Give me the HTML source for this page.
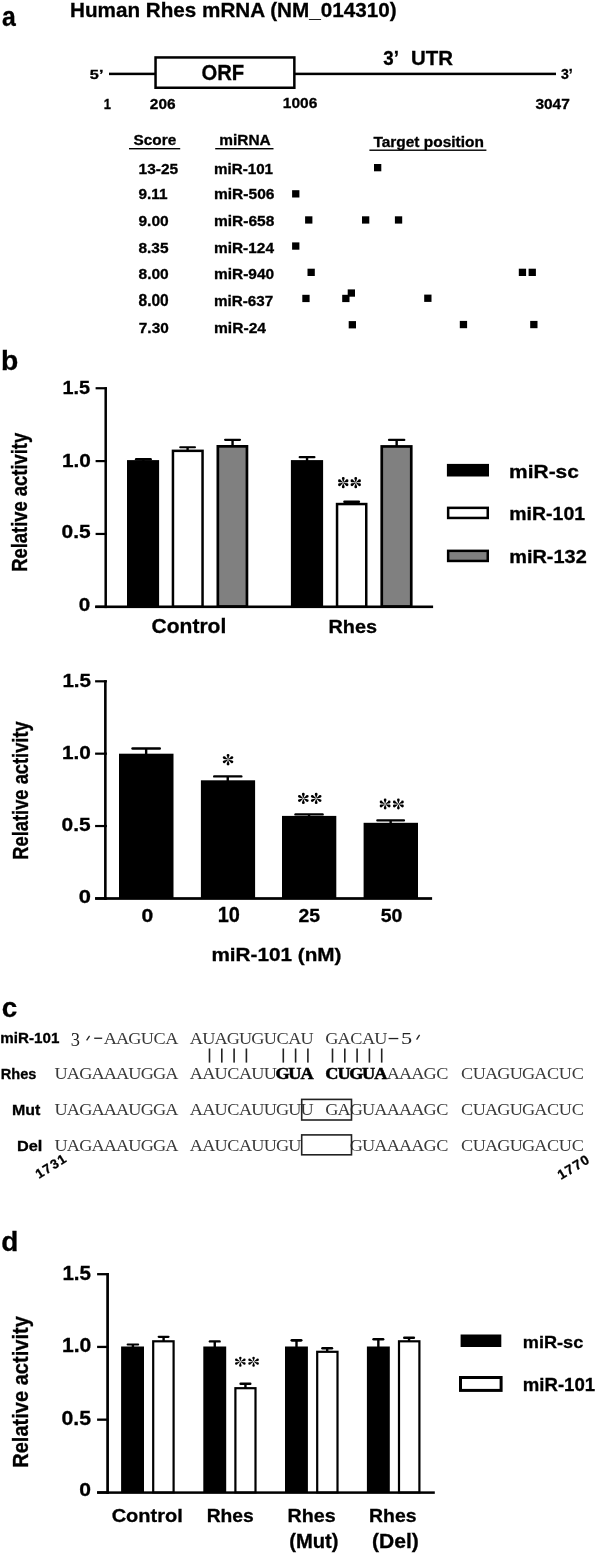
<!DOCTYPE html>
<html><head><meta charset="utf-8"><style>
html,body{margin:0;padding:0;background:#fff;}
svg{display:block;will-change:transform;}
</style></head><body>
<svg width="598" height="1556" viewBox="0 0 598 1556">
<rect x="0" y="0" width="598" height="1556" fill="#fff"/>
<text x="2.08" y="25.82" font-family="Liberation Sans" font-weight="bold" font-size="27.74" textLength="13.80" lengthAdjust="spacingAndGlyphs" fill="#000" stroke="#000" stroke-width="0.3" >a</text>
<text x="70.02" y="17.23" font-family="Liberation Sans" font-weight="bold" font-size="21.01" textLength="326.51" lengthAdjust="spacingAndGlyphs" fill="#000" stroke="#000" stroke-width="0.3" >Human Rhes mRNA (NM_014310)</text>
<text x="89.89" y="79.27" font-family="Liberation Sans" font-weight="bold" font-size="13.47" textLength="13.62" lengthAdjust="spacingAndGlyphs" fill="#000" stroke="#000" stroke-width="0.3" >5’</text>
<rect x="109.00" y="72.65" width="46.00" height="2.50" fill="#000"/>
<rect x="155.55" y="57.45" width="138.80" height="30.30" fill="#fff" stroke="#000" stroke-width="2.5"/>
<text x="201.47" y="79.98" font-family="Liberation Sans" font-weight="bold" font-size="22.03" textLength="42.78" lengthAdjust="spacingAndGlyphs" fill="#000" stroke="#000" stroke-width="0.3" >ORF</text>
<rect x="295.00" y="72.65" width="261.00" height="2.50" fill="#000"/>
<text x="383.37" y="64.79" font-family="Liberation Sans" font-weight="bold" font-size="19.46" textLength="15.60" lengthAdjust="spacingAndGlyphs" fill="#000" stroke="#000" stroke-width="0.3" >3’</text>
<text x="410.98" y="64.80" font-family="Liberation Sans" font-weight="bold" font-size="19.77" textLength="41.96" lengthAdjust="spacingAndGlyphs" fill="#000" stroke="#000" stroke-width="0.3" >UTR</text>
<text x="560.97" y="79.45" font-family="Liberation Sans" font-weight="bold" font-size="13.96" textLength="11.79" lengthAdjust="spacingAndGlyphs" fill="#000" stroke="#000" stroke-width="0.3" >3’</text>
<text x="103.69" y="108.90" font-family="Liberation Sans" font-weight="bold" font-size="14.68" textLength="7.18" lengthAdjust="spacingAndGlyphs" fill="#000" stroke="#000" stroke-width="0.3" >1</text>
<text x="149.86" y="108.76" font-family="Liberation Sans" font-weight="bold" font-size="14.27" textLength="25.70" lengthAdjust="spacingAndGlyphs" fill="#000" stroke="#000" stroke-width="0.3" >206</text>
<text x="282.82" y="108.45" font-family="Liberation Sans" font-weight="bold" font-size="14.97" textLength="34.44" lengthAdjust="spacingAndGlyphs" fill="#000" stroke="#000" stroke-width="0.3" >1006</text>
<text x="535.44" y="108.64" font-family="Liberation Sans" font-weight="bold" font-size="14.95" textLength="34.34" lengthAdjust="spacingAndGlyphs" fill="#000" stroke="#000" stroke-width="0.3" >3047</text>
<text x="133.55" y="144.75" font-family="Liberation Sans" font-weight="bold" font-size="15.11" textLength="42.67" lengthAdjust="spacingAndGlyphs" fill="#000" stroke="#000" stroke-width="0.3" >Score</text>
<text x="219.28" y="144.80" font-family="Liberation Sans" font-weight="bold" font-size="14.48" textLength="51.43" lengthAdjust="spacingAndGlyphs" fill="#000" stroke="#000" stroke-width="0.3" >miRNA</text>
<text x="373.43" y="146.80" font-family="Liberation Sans" font-weight="bold" font-size="14.62" textLength="110.43" lengthAdjust="spacingAndGlyphs" fill="#000" stroke="#000" stroke-width="0.3" >Target position</text>
<rect x="129.00" y="148.00" width="51.20" height="1.40" fill="#000"/>
<rect x="215.20" y="148.00" width="58.30" height="1.40" fill="#000"/>
<rect x="369.40" y="149.50" width="117.00" height="1.40" fill="#000"/>
<text x="138.52" y="173.73" font-family="Liberation Sans" font-weight="bold" font-size="15.09" textLength="39.62" lengthAdjust="spacingAndGlyphs" fill="#000" stroke="#000" stroke-width="0.3" >13-25</text>
<text x="214.00" y="173.56" font-family="Liberation Sans" font-weight="bold" font-size="14.42" textLength="59.04" lengthAdjust="spacingAndGlyphs" fill="#000" stroke="#000" stroke-width="0.3" >miR-101</text>
<text x="138.46" y="199.45" font-family="Liberation Sans" font-weight="bold" font-size="14.83" textLength="29.07" lengthAdjust="spacingAndGlyphs" fill="#000" stroke="#000" stroke-width="0.3" >9.11</text>
<text x="213.97" y="199.26" font-family="Liberation Sans" font-weight="bold" font-size="14.15" textLength="60.50" lengthAdjust="spacingAndGlyphs" fill="#000" stroke="#000" stroke-width="0.3" >miR-506</text>
<text x="138.46" y="226.05" font-family="Liberation Sans" font-weight="bold" font-size="14.83" textLength="30.29" lengthAdjust="spacingAndGlyphs" fill="#000" stroke="#000" stroke-width="0.3" >9.00</text>
<text x="213.98" y="225.86" font-family="Liberation Sans" font-weight="bold" font-size="14.15" textLength="60.42" lengthAdjust="spacingAndGlyphs" fill="#000" stroke="#000" stroke-width="0.3" >miR-658</text>
<text x="138.51" y="252.64" font-family="Liberation Sans" font-weight="bold" font-size="14.81" textLength="30.03" lengthAdjust="spacingAndGlyphs" fill="#000" stroke="#000" stroke-width="0.3" >8.35</text>
<text x="213.98" y="252.60" font-family="Liberation Sans" font-weight="bold" font-size="14.34" textLength="60.00" lengthAdjust="spacingAndGlyphs" fill="#000" stroke="#000" stroke-width="0.3" >miR-124</text>
<text x="138.50" y="279.45" font-family="Liberation Sans" font-weight="bold" font-size="14.97" textLength="30.24" lengthAdjust="spacingAndGlyphs" fill="#000" stroke="#000" stroke-width="0.3" >8.00</text>
<text x="213.98" y="279.26" font-family="Liberation Sans" font-weight="bold" font-size="14.29" textLength="60.16" lengthAdjust="spacingAndGlyphs" fill="#000" stroke="#000" stroke-width="0.3" >miR-940</text>
<text x="138.50" y="306.04" font-family="Liberation Sans" font-weight="bold" font-size="15.68" textLength="30.24" lengthAdjust="spacingAndGlyphs" fill="#000" stroke="#000" stroke-width="0.3" >8.00</text>
<text x="213.99" y="305.84" font-family="Liberation Sans" font-weight="bold" font-size="14.95" textLength="59.29" lengthAdjust="spacingAndGlyphs" fill="#000" stroke="#000" stroke-width="0.3" >miR-637</text>
<text x="138.84" y="332.64" font-family="Liberation Sans" font-weight="bold" font-size="14.95" textLength="29.89" lengthAdjust="spacingAndGlyphs" fill="#000" stroke="#000" stroke-width="0.3" >7.30</text>
<text x="213.97" y="332.60" font-family="Liberation Sans" font-weight="bold" font-size="14.48" textLength="52.02" lengthAdjust="spacingAndGlyphs" fill="#000" stroke="#000" stroke-width="0.3" >miR-24</text>
<rect x="374.00" y="164.00" width="7.30" height="7.30" fill="#000"/>
<rect x="292.10" y="190.20" width="7.30" height="7.30" fill="#000"/>
<rect x="305.10" y="216.30" width="7.30" height="7.30" fill="#000"/>
<rect x="362.00" y="216.30" width="7.30" height="7.30" fill="#000"/>
<rect x="394.90" y="216.30" width="7.30" height="7.30" fill="#000"/>
<rect x="292.10" y="242.40" width="7.30" height="7.30" fill="#000"/>
<rect x="307.50" y="268.70" width="7.30" height="7.30" fill="#000"/>
<rect x="518.80" y="268.70" width="7.30" height="7.30" fill="#000"/>
<rect x="528.60" y="268.70" width="7.30" height="7.30" fill="#000"/>
<rect x="302.30" y="294.80" width="7.30" height="7.30" fill="#000"/>
<rect x="342.20" y="294.80" width="7.30" height="7.30" fill="#000"/>
<rect x="347.70" y="289.40" width="7.30" height="7.30" fill="#000"/>
<rect x="424.20" y="294.60" width="7.30" height="7.30" fill="#000"/>
<rect x="348.70" y="321.10" width="7.30" height="7.30" fill="#000"/>
<rect x="459.80" y="320.90" width="7.30" height="7.30" fill="#000"/>
<rect x="530.20" y="320.90" width="7.30" height="7.30" fill="#000"/>
<text x="0.93" y="370.48" font-family="Liberation Sans" font-weight="bold" font-size="26.87" textLength="17.28" lengthAdjust="spacingAndGlyphs" fill="#000" stroke="#000" stroke-width="0.3" >b</text>
<rect x="104.45" y="387.20" width="2.50" height="220.90" fill="#000"/>
<rect x="95.60" y="387.15" width="11.30" height="2.20" fill="#000"/>
<rect x="95.60" y="460.00" width="11.30" height="2.20" fill="#000"/>
<rect x="95.60" y="532.85" width="11.30" height="2.20" fill="#000"/>
<rect x="95.60" y="605.70" width="11.30" height="2.20" fill="#000"/>
<rect x="95.10" y="605.50" width="338.00" height="2.60" fill="#000"/>
<text x="62.45" y="393.51" font-family="Liberation Sans" font-weight="bold" font-size="19.05" textLength="27.61" lengthAdjust="spacingAndGlyphs" fill="#000" stroke="#000" stroke-width="0.3" >1.5</text>
<text x="61.99" y="466.51" font-family="Liberation Sans" font-weight="bold" font-size="18.93" textLength="28.86" lengthAdjust="spacingAndGlyphs" fill="#000" stroke="#000" stroke-width="0.3" >1.0</text>
<text x="61.56" y="538.42" font-family="Liberation Sans" font-weight="bold" font-size="17.94" textLength="29.02" lengthAdjust="spacingAndGlyphs" fill="#000" stroke="#000" stroke-width="0.3" >0.5</text>
<text x="78.87" y="611.32" font-family="Liberation Sans" font-weight="bold" font-size="18.08" textLength="11.47" lengthAdjust="spacingAndGlyphs" fill="#000" stroke="#000" stroke-width="0.3" >0</text>
<text transform="translate(27.20,571.73) rotate(-90) scale(1,1.1617)" x="0" y="0" font-family="Liberation Sans" font-weight="bold" font-size="18.39" fill="#000" stroke="#000" stroke-width="0.3">Relative activity</text>
<rect x="134.90" y="457.90" width="17.00" height="2.50" rx="1.25" fill="#000"/>
<rect x="142.20" y="459.15" width="2.40" height="1.95" fill="#000"/>
<rect x="127.00" y="460.10" width="32.10" height="146.70" fill="#000"/>
<rect x="179.20" y="446.20" width="16.80" height="2.00" rx="1.00" fill="#000"/>
<rect x="186.40" y="447.20" width="2.40" height="3.40" fill="#000"/>
<rect x="172.95" y="450.85" width="29.60" height="155.70" fill="#fff" stroke="#000" stroke-width="2.5"/>
<rect x="224.00" y="438.70" width="17.10" height="2.30" rx="1.15" fill="#000"/>
<rect x="231.35" y="439.85" width="2.40" height="6.15" fill="#000"/>
<rect x="217.85" y="446.35" width="29.10" height="160.10" fill="#808080" stroke="#000" stroke-width="2.7"/>
<rect x="298.60" y="456.10" width="16.90" height="2.20" rx="1.10" fill="#000"/>
<rect x="305.85" y="457.20" width="2.40" height="3.90" fill="#000"/>
<rect x="290.90" y="460.10" width="32.20" height="146.70" fill="#000"/>
<rect x="343.20" y="500.50" width="16.90" height="2.40" rx="1.20" fill="#000"/>
<rect x="350.45" y="501.70" width="2.40" height="2.10" fill="#000"/>
<rect x="337.05" y="504.05" width="29.20" height="102.50" fill="#fff" stroke="#000" stroke-width="2.5"/>
<rect x="387.90" y="438.80" width="17.50" height="2.20" rx="1.10" fill="#000"/>
<rect x="395.45" y="439.90" width="2.40" height="6.20" fill="#000"/>
<rect x="381.75" y="446.45" width="29.50" height="160.00" fill="#808080" stroke="#000" stroke-width="2.7"/>
<path d="M343.42,482.20 L344.49,478.99 L342.01,478.99 L343.08,482.20Z M344.62,478.57 a1.38,1.38 0 1,0 -2.75,0 a1.38,1.38 0 1,0 2.75,0Z M343.79,482.59 L347.30,481.92 L346.06,479.77 L343.63,482.31Z M348.41,480.64 a1.38,1.38 0 1,0 -2.75,0 a1.38,1.38 0 1,0 2.75,0Z M342.87,482.31 L340.44,479.77 L339.20,481.92 L342.71,482.59Z M340.84,480.64 a1.38,1.38 0 1,0 -2.75,0 a1.38,1.38 0 1,0 2.75,0Z M343.08,483.20 L342.01,486.41 L344.49,486.41 L343.42,483.20Z M344.62,486.82 a1.38,1.38 0 1,0 -2.75,0 a1.38,1.38 0 1,0 2.75,0Z M342.71,482.81 L339.20,483.48 L340.44,485.63 L342.87,483.09Z M340.84,484.76 a1.38,1.38 0 1,0 -2.75,0 a1.38,1.38 0 1,0 2.75,0Z M343.63,483.09 L346.06,485.63 L347.30,483.48 L343.79,482.81Z M348.41,484.76 a1.38,1.38 0 1,0 -2.75,0 a1.38,1.38 0 1,0 2.75,0Z" fill="#000"/>
<path d="M355.92,482.20 L356.99,478.99 L354.51,478.99 L355.58,482.20Z M357.12,478.57 a1.38,1.38 0 1,0 -2.75,0 a1.38,1.38 0 1,0 2.75,0Z M356.29,482.59 L359.80,481.92 L358.56,479.77 L356.13,482.31Z M360.91,480.64 a1.38,1.38 0 1,0 -2.75,0 a1.38,1.38 0 1,0 2.75,0Z M355.37,482.31 L352.94,479.77 L351.70,481.92 L355.21,482.59Z M353.34,480.64 a1.38,1.38 0 1,0 -2.75,0 a1.38,1.38 0 1,0 2.75,0Z M355.58,483.20 L354.51,486.41 L356.99,486.41 L355.92,483.20Z M357.12,486.82 a1.38,1.38 0 1,0 -2.75,0 a1.38,1.38 0 1,0 2.75,0Z M355.21,482.81 L351.70,483.48 L352.94,485.63 L355.37,483.09Z M353.34,484.76 a1.38,1.38 0 1,0 -2.75,0 a1.38,1.38 0 1,0 2.75,0Z M356.13,483.09 L358.56,485.63 L359.80,483.48 L356.29,482.81Z M360.91,484.76 a1.38,1.38 0 1,0 -2.75,0 a1.38,1.38 0 1,0 2.75,0Z" fill="#000"/>
<text x="151.64" y="632.60" font-family="Liberation Sans" font-weight="bold" font-size="19.73" textLength="74.65" lengthAdjust="spacingAndGlyphs" fill="#000" stroke="#000" stroke-width="0.3" >Control</text>
<text x="328.47" y="632.51" font-family="Liberation Sans" font-weight="bold" font-size="19.05" textLength="48.55" lengthAdjust="spacingAndGlyphs" fill="#000" stroke="#000" stroke-width="0.3" >Rhes</text>
<rect x="446.90" y="463.90" width="42.10" height="12.60" fill="#000"/>
<rect x="448.15" y="507.85" width="39.60" height="10.10" fill="#fff" stroke="#000" stroke-width="2.5"/>
<rect x="448.15" y="550.85" width="39.60" height="10.10" fill="#808080" stroke="#000" stroke-width="2.5"/>
<text x="509.12" y="477.72" font-family="Liberation Sans" font-weight="bold" font-size="17.82" textLength="69.80" lengthAdjust="spacingAndGlyphs" fill="#000" stroke="#000" stroke-width="0.3" >miR-sc</text>
<text x="509.32" y="520.42" font-family="Liberation Sans" font-weight="bold" font-size="17.82" textLength="75.74" lengthAdjust="spacingAndGlyphs" fill="#000" stroke="#000" stroke-width="0.3" >miR-101</text>
<text x="509.29" y="563.10" font-family="Liberation Sans" font-weight="bold" font-size="17.80" textLength="77.42" lengthAdjust="spacingAndGlyphs" fill="#000" stroke="#000" stroke-width="0.3" >miR-132</text>
<rect x="104.05" y="680.20" width="2.60" height="219.70" fill="#000"/>
<rect x="95.10" y="680.21" width="11.80" height="2.20" fill="#000"/>
<rect x="95.10" y="752.57" width="11.80" height="2.20" fill="#000"/>
<rect x="95.10" y="824.93" width="11.80" height="2.20" fill="#000"/>
<rect x="95.10" y="897.30" width="11.80" height="2.20" fill="#000"/>
<rect x="95.10" y="897.15" width="337.00" height="2.70" fill="#000"/>
<text x="62.40" y="686.51" font-family="Liberation Sans" font-weight="bold" font-size="19.20" textLength="28.68" lengthAdjust="spacingAndGlyphs" fill="#000" stroke="#000" stroke-width="0.3" >1.5</text>
<text x="61.99" y="758.71" font-family="Liberation Sans" font-weight="bold" font-size="18.93" textLength="28.86" lengthAdjust="spacingAndGlyphs" fill="#000" stroke="#000" stroke-width="0.3" >1.0</text>
<text x="61.56" y="831.01" font-family="Liberation Sans" font-weight="bold" font-size="18.93" textLength="29.02" lengthAdjust="spacingAndGlyphs" fill="#000" stroke="#000" stroke-width="0.3" >0.5</text>
<text x="78.82" y="903.32" font-family="Liberation Sans" font-weight="bold" font-size="18.36" textLength="12.18" lengthAdjust="spacingAndGlyphs" fill="#000" stroke="#000" stroke-width="0.3" >0</text>
<text transform="translate(27.50,859.63) rotate(-90) scale(1,1.1756)" x="0" y="0" font-family="Liberation Sans" font-weight="bold" font-size="18.30" fill="#000" stroke="#000" stroke-width="0.3">Relative activity</text>
<rect x="131.30" y="747.30" width="29.70" height="2.50" rx="1.25" fill="#000"/>
<rect x="144.95" y="748.55" width="2.40" height="6.15" fill="#000"/>
<rect x="119.00" y="753.70" width="54.50" height="144.70" fill="#000"/>
<rect x="213.00" y="775.20" width="29.50" height="2.40" rx="1.20" fill="#000"/>
<rect x="226.55" y="776.40" width="2.40" height="4.90" fill="#000"/>
<rect x="200.90" y="780.30" width="54.20" height="118.10" fill="#000"/>
<rect x="294.30" y="813.20" width="29.50" height="2.40" rx="1.20" fill="#000"/>
<rect x="307.85" y="814.40" width="2.40" height="2.50" fill="#000"/>
<rect x="282.00" y="815.90" width="54.30" height="82.50" fill="#000"/>
<rect x="376.20" y="819.30" width="28.90" height="2.20" rx="1.10" fill="#000"/>
<rect x="389.45" y="820.40" width="2.40" height="3.40" fill="#000"/>
<rect x="363.60" y="822.80" width="54.40" height="75.60" fill="#000"/>
<path d="M228.22,759.20 L229.33,755.85 L226.77,755.85 L227.88,759.20Z M229.48,755.43 a1.42,1.42 0 1,0 -2.85,0 a1.42,1.42 0 1,0 2.85,0Z M228.59,759.60 L232.18,758.89 L230.90,756.67 L228.42,759.30Z M233.34,757.56 a1.42,1.42 0 1,0 -2.85,0 a1.42,1.42 0 1,0 2.85,0Z M227.68,759.30 L225.20,756.67 L223.92,758.89 L227.51,759.60Z M225.61,757.56 a1.42,1.42 0 1,0 -2.85,0 a1.42,1.42 0 1,0 2.85,0Z M227.88,760.20 L226.77,763.55 L229.33,763.55 L228.22,760.20Z M229.48,763.98 a1.42,1.42 0 1,0 -2.85,0 a1.42,1.42 0 1,0 2.85,0Z M227.51,759.80 L223.92,760.51 L225.20,762.73 L227.68,760.10Z M225.61,761.84 a1.42,1.42 0 1,0 -2.85,0 a1.42,1.42 0 1,0 2.85,0Z M228.42,760.10 L230.90,762.73 L232.18,760.51 L228.59,759.80Z M233.34,761.84 a1.42,1.42 0 1,0 -2.85,0 a1.42,1.42 0 1,0 2.85,0Z" fill="#000"/>
<path d="M303.49,797.95 L304.60,794.64 L302.05,794.64 L303.16,797.95Z M304.74,794.21 a1.41,1.41 0 1,0 -2.83,0 a1.41,1.41 0 1,0 2.83,0Z M303.87,798.35 L307.51,797.64 L306.24,795.44 L303.70,798.05Z M308.66,796.33 a1.41,1.41 0 1,0 -2.83,0 a1.41,1.41 0 1,0 2.83,0Z M302.95,798.05 L300.41,795.44 L299.14,797.64 L302.78,798.35Z M300.82,796.33 a1.41,1.41 0 1,0 -2.83,0 a1.41,1.41 0 1,0 2.83,0Z M303.16,798.95 L302.05,802.26 L304.60,802.26 L303.49,798.95Z M304.74,802.69 a1.41,1.41 0 1,0 -2.83,0 a1.41,1.41 0 1,0 2.83,0Z M302.78,798.55 L299.14,799.26 L300.41,801.46 L302.95,798.85Z M300.82,800.57 a1.41,1.41 0 1,0 -2.83,0 a1.41,1.41 0 1,0 2.83,0Z M303.70,798.85 L306.24,801.46 L307.51,799.26 L303.87,798.55Z M308.66,800.57 a1.41,1.41 0 1,0 -2.83,0 a1.41,1.41 0 1,0 2.83,0Z" fill="#000"/>
<path d="M316.34,797.95 L317.45,794.64 L314.90,794.64 L316.01,797.95Z M317.59,794.21 a1.41,1.41 0 1,0 -2.83,0 a1.41,1.41 0 1,0 2.83,0Z M316.72,798.35 L320.36,797.64 L319.09,795.44 L316.55,798.05Z M321.51,796.33 a1.41,1.41 0 1,0 -2.83,0 a1.41,1.41 0 1,0 2.83,0Z M315.80,798.05 L313.26,795.44 L311.99,797.64 L315.63,798.35Z M313.67,796.33 a1.41,1.41 0 1,0 -2.83,0 a1.41,1.41 0 1,0 2.83,0Z M316.01,798.95 L314.90,802.26 L317.45,802.26 L316.34,798.95Z M317.59,802.69 a1.41,1.41 0 1,0 -2.83,0 a1.41,1.41 0 1,0 2.83,0Z M315.63,798.55 L311.99,799.26 L313.26,801.46 L315.80,798.85Z M313.67,800.57 a1.41,1.41 0 1,0 -2.83,0 a1.41,1.41 0 1,0 2.83,0Z M316.55,798.85 L319.09,801.46 L320.36,799.26 L316.72,798.55Z M321.51,800.57 a1.41,1.41 0 1,0 -2.83,0 a1.41,1.41 0 1,0 2.83,0Z" fill="#000"/>
<path d="M385.29,803.55 L386.33,800.44 L383.92,800.44 L384.96,803.55Z M386.46,800.04 a1.34,1.34 0 1,0 -2.67,0 a1.34,1.34 0 1,0 2.67,0Z M385.71,803.94 L389.45,803.29 L388.24,801.20 L385.55,803.66Z M390.53,802.04 a1.34,1.34 0 1,0 -2.67,0 a1.34,1.34 0 1,0 2.67,0Z M384.70,803.66 L382.01,801.20 L380.80,803.29 L384.54,803.94Z M382.39,802.04 a1.34,1.34 0 1,0 -2.67,0 a1.34,1.34 0 1,0 2.67,0Z M384.96,804.55 L383.92,807.66 L386.33,807.66 L385.29,804.55Z M386.46,808.06 a1.34,1.34 0 1,0 -2.67,0 a1.34,1.34 0 1,0 2.67,0Z M384.54,804.16 L380.80,804.81 L382.01,806.90 L384.70,804.44Z M382.39,806.06 a1.34,1.34 0 1,0 -2.67,0 a1.34,1.34 0 1,0 2.67,0Z M385.55,804.44 L388.24,806.90 L389.45,804.81 L385.71,804.16Z M390.53,806.06 a1.34,1.34 0 1,0 -2.67,0 a1.34,1.34 0 1,0 2.67,0Z" fill="#000"/>
<path d="M398.54,803.55 L399.58,800.44 L397.17,800.44 L398.21,803.55Z M399.71,800.04 a1.34,1.34 0 1,0 -2.67,0 a1.34,1.34 0 1,0 2.67,0Z M398.96,803.94 L402.70,803.29 L401.49,801.20 L398.80,803.66Z M403.78,802.04 a1.34,1.34 0 1,0 -2.67,0 a1.34,1.34 0 1,0 2.67,0Z M397.95,803.66 L395.26,801.20 L394.05,803.29 L397.79,803.94Z M395.64,802.04 a1.34,1.34 0 1,0 -2.67,0 a1.34,1.34 0 1,0 2.67,0Z M398.21,804.55 L397.17,807.66 L399.58,807.66 L398.54,804.55Z M399.71,808.06 a1.34,1.34 0 1,0 -2.67,0 a1.34,1.34 0 1,0 2.67,0Z M397.79,804.16 L394.05,804.81 L395.26,806.90 L397.95,804.44Z M395.64,806.06 a1.34,1.34 0 1,0 -2.67,0 a1.34,1.34 0 1,0 2.67,0Z M398.80,804.44 L401.49,806.90 L402.70,804.81 L398.96,804.16Z M403.78,806.06 a1.34,1.34 0 1,0 -2.67,0 a1.34,1.34 0 1,0 2.67,0Z" fill="#000"/>
<text x="141.46" y="922.02" font-family="Liberation Sans" font-weight="bold" font-size="17.51" textLength="11.71" lengthAdjust="spacingAndGlyphs" fill="#000" stroke="#000" stroke-width="0.3" >0</text>
<text x="217.74" y="922.49" font-family="Liberation Sans" font-weight="bold" font-size="21.19" textLength="22.18" lengthAdjust="spacingAndGlyphs" fill="#000" stroke="#000" stroke-width="0.3" >10</text>
<text x="298.62" y="921.82" font-family="Liberation Sans" font-weight="bold" font-size="18.08" textLength="21.53" lengthAdjust="spacingAndGlyphs" fill="#000" stroke="#000" stroke-width="0.3" >25</text>
<text x="380.80" y="921.82" font-family="Liberation Sans" font-weight="bold" font-size="18.08" textLength="21.60" lengthAdjust="spacingAndGlyphs" fill="#000" stroke="#000" stroke-width="0.3" >50</text>
<text x="211.43" y="960.52" font-family="Liberation Sans" font-weight="bold" font-size="18.65" textLength="130.11" lengthAdjust="spacingAndGlyphs" fill="#000" stroke="#000" stroke-width="0.3" >miR-101 (nM)</text>
<text x="1.71" y="1016.82" font-family="Liberation Sans" font-weight="bold" font-size="28.10" textLength="15.50" lengthAdjust="spacingAndGlyphs" fill="#000" stroke="#000" stroke-width="0.3" >c</text>
<text x="0.30" y="1043.06" font-family="Liberation Sans" font-weight="bold" font-size="14.42" textLength="59.04" lengthAdjust="spacingAndGlyphs" fill="#000" stroke="#000" stroke-width="0.3" >miR-101</text>
<text x="0.72" y="1079.35" font-family="Liberation Sans" font-weight="bold" font-size="15.10" textLength="35.68" lengthAdjust="spacingAndGlyphs" fill="#000" stroke="#000" stroke-width="0.3" >Rhes</text>
<text x="11.93" y="1114.95" font-family="Liberation Sans" font-weight="bold" font-size="15.04" textLength="28.36" lengthAdjust="spacingAndGlyphs" fill="#000" stroke="#000" stroke-width="0.3" >Mut</text>
<text x="16.91" y="1150.66" font-family="Liberation Sans" font-weight="bold" font-size="14.42" textLength="25.35" lengthAdjust="spacingAndGlyphs" fill="#000" stroke="#000" stroke-width="0.3" >Del</text>
<g transform="scale(1.12,1)"><text y="1044.00" font-family="Liberation Serif" font-size="16.3" text-anchor="middle" fill="#3a3a3a"><tspan x="98.53">A</tspan><tspan x="109.51">A</tspan><tspan x="120.49">G</tspan><tspan x="131.47">U</tspan><tspan x="142.46">C</tspan><tspan x="153.44">A</tspan><tspan x="175.40">A</tspan><tspan x="186.38">U</tspan><tspan x="197.37">A</tspan><tspan x="208.35">G</tspan><tspan x="219.33">U</tspan><tspan x="230.31">G</tspan><tspan x="241.29">U</tspan><tspan x="252.28">C</tspan><tspan x="263.26">A</tspan><tspan x="274.24">U</tspan><tspan x="296.21">G</tspan><tspan x="307.19">A</tspan><tspan x="318.17">C</tspan><tspan x="329.15">A</tspan><tspan x="340.13">U</tspan></text></g>
<text x="70.82" y="1045.91" font-family="Liberation Serif" font-weight="normal" font-size="19.20" textLength="9.20" lengthAdjust="spacingAndGlyphs" fill="#222"  >3</text>
<line x1="89.6" y1="1035.8" x2="86.6" y2="1040.4" stroke="#222" stroke-width="1.3"/>
<rect x="94.20" y="1037.60" width="8.00" height="1.30" fill="#222"/>
<rect x="388.60" y="1037.90" width="9.70" height="1.30" fill="#222"/>
<text x="401.00" y="1043.84" font-family="Liberation Serif" font-weight="normal" font-size="16.24" textLength="11.17" lengthAdjust="spacingAndGlyphs" fill="#222"  >5</text>
<line x1="419.6" y1="1034.8" x2="416.6" y2="1039.6" stroke="#222" stroke-width="1.3"/>
<rect x="208.70" y="1048.50" width="1.60" height="14.10" fill="#222"/>
<rect x="221.00" y="1048.50" width="1.60" height="14.10" fill="#222"/>
<rect x="233.30" y="1048.50" width="1.60" height="14.10" fill="#222"/>
<rect x="245.60" y="1048.50" width="1.60" height="14.10" fill="#222"/>
<rect x="282.50" y="1048.50" width="1.60" height="14.10" fill="#222"/>
<rect x="294.80" y="1048.50" width="1.60" height="14.10" fill="#222"/>
<rect x="307.10" y="1048.50" width="1.60" height="14.10" fill="#222"/>
<rect x="331.70" y="1048.50" width="1.60" height="14.10" fill="#222"/>
<rect x="344.00" y="1048.50" width="1.60" height="14.10" fill="#222"/>
<rect x="356.30" y="1048.50" width="1.60" height="14.10" fill="#222"/>
<rect x="368.60" y="1048.50" width="1.60" height="14.10" fill="#222"/>
<rect x="380.90" y="1048.50" width="1.60" height="14.10" fill="#222"/>
<g transform="scale(1.12,1)"><text y="1079.50" font-family="Liberation Serif" font-size="16.3" text-anchor="middle" fill="#3a3a3a"><tspan x="54.60">U</tspan><tspan x="65.58">A</tspan><tspan x="76.56">G</tspan><tspan x="87.54">A</tspan><tspan x="98.53">A</tspan><tspan x="109.51">A</tspan><tspan x="120.49">U</tspan><tspan x="131.47">G</tspan><tspan x="142.46">G</tspan><tspan x="153.44">A</tspan><tspan x="175.40">A</tspan><tspan x="186.38">A</tspan><tspan x="197.37">U</tspan><tspan x="208.35">C</tspan><tspan x="219.33">A</tspan><tspan x="230.31">U</tspan><tspan x="241.29">U</tspan><tspan x="252.28" font-weight="bold" fill="#000" stroke="#000" stroke-width="0.5">G</tspan><tspan x="263.26" font-weight="bold" fill="#000" stroke="#000" stroke-width="0.5">U</tspan><tspan x="274.24" font-weight="bold" fill="#000" stroke="#000" stroke-width="0.5">A</tspan><tspan x="296.21" font-weight="bold" fill="#000" stroke="#000" stroke-width="0.5">C</tspan><tspan x="307.19" font-weight="bold" fill="#000" stroke="#000" stroke-width="0.5">U</tspan><tspan x="318.17" font-weight="bold" fill="#000" stroke="#000" stroke-width="0.5">G</tspan><tspan x="329.15" font-weight="bold" fill="#000" stroke="#000" stroke-width="0.5">U</tspan><tspan x="340.13" font-weight="bold" fill="#000" stroke="#000" stroke-width="0.5">A</tspan><tspan x="351.12">A</tspan><tspan x="362.10">A</tspan><tspan x="373.08">A</tspan><tspan x="384.06">G</tspan><tspan x="395.04">C</tspan><tspan x="417.01">C</tspan><tspan x="427.99">U</tspan><tspan x="438.97">A</tspan><tspan x="449.96">G</tspan><tspan x="460.94">U</tspan><tspan x="471.92">G</tspan><tspan x="482.90">A</tspan><tspan x="493.88">C</tspan><tspan x="504.87">U</tspan><tspan x="515.85">C</tspan></text></g>
<g transform="scale(1.12,1)"><text y="1115.30" font-family="Liberation Serif" font-size="16.3" text-anchor="middle" fill="#3a3a3a"><tspan x="54.60">U</tspan><tspan x="65.58">A</tspan><tspan x="76.56">G</tspan><tspan x="87.54">A</tspan><tspan x="98.53">A</tspan><tspan x="109.51">A</tspan><tspan x="120.49">U</tspan><tspan x="131.47">G</tspan><tspan x="142.46">G</tspan><tspan x="153.44">A</tspan><tspan x="175.40">A</tspan><tspan x="186.38">A</tspan><tspan x="197.37">U</tspan><tspan x="208.35">C</tspan><tspan x="219.33">A</tspan><tspan x="230.31">U</tspan><tspan x="241.29">U</tspan><tspan x="252.28">G</tspan><tspan x="263.26">U</tspan><tspan x="274.24">U</tspan><tspan x="296.21">G</tspan><tspan x="307.19">A</tspan><tspan x="318.17">G</tspan><tspan x="329.15">U</tspan><tspan x="340.13">A</tspan><tspan x="351.12">A</tspan><tspan x="362.10">A</tspan><tspan x="373.08">A</tspan><tspan x="384.06">G</tspan><tspan x="395.04">C</tspan><tspan x="417.01">C</tspan><tspan x="427.99">U</tspan><tspan x="438.97">A</tspan><tspan x="449.96">G</tspan><tspan x="460.94">U</tspan><tspan x="471.92">G</tspan><tspan x="482.90">A</tspan><tspan x="493.88">C</tspan><tspan x="504.87">U</tspan><tspan x="515.85">C</tspan></text></g>
<g transform="scale(1.12,1)"><text y="1150.80" font-family="Liberation Serif" font-size="16.3" text-anchor="middle" fill="#3a3a3a"><tspan x="54.60">U</tspan><tspan x="65.58">A</tspan><tspan x="76.56">G</tspan><tspan x="87.54">A</tspan><tspan x="98.53">A</tspan><tspan x="109.51">A</tspan><tspan x="120.49">U</tspan><tspan x="131.47">G</tspan><tspan x="142.46">G</tspan><tspan x="153.44">A</tspan><tspan x="175.40">A</tspan><tspan x="186.38">A</tspan><tspan x="197.37">U</tspan><tspan x="208.35">C</tspan><tspan x="219.33">A</tspan><tspan x="230.31">U</tspan><tspan x="241.29">U</tspan><tspan x="252.28">G</tspan><tspan x="263.26">U</tspan><tspan x="318.17">G</tspan><tspan x="329.15">U</tspan><tspan x="340.13">A</tspan><tspan x="351.12">A</tspan><tspan x="362.10">A</tspan><tspan x="373.08">A</tspan><tspan x="384.06">G</tspan><tspan x="395.04">C</tspan><tspan x="417.01">C</tspan><tspan x="427.99">U</tspan><tspan x="438.97">A</tspan><tspan x="449.96">G</tspan><tspan x="460.94">U</tspan><tspan x="471.92">G</tspan><tspan x="482.90">A</tspan><tspan x="493.88">C</tspan><tspan x="504.87">U</tspan><tspan x="515.85">C</tspan></text></g>
<rect x="301.70" y="1099.40" width="49.80" height="20.60" fill="none" stroke="#222" stroke-width="1.6"/>
<rect x="301.70" y="1134.90" width="49.80" height="19.90" fill="none" stroke="#222" stroke-width="1.6"/>
<text transform="translate(39.0,1179.0) rotate(-32)" font-family="Liberation Sans" font-weight="bold" font-size="13.2" letter-spacing="1.3" stroke="#000" stroke-width="0.35">1731</text>
<text transform="translate(561.0,1180.0) rotate(-31)" font-family="Liberation Sans" font-weight="bold" font-size="13.6" letter-spacing="1.3" stroke="#000" stroke-width="0.35">1770</text>
<text x="1.15" y="1251.33" font-family="Liberation Sans" font-weight="bold" font-size="27.07" textLength="17.09" lengthAdjust="spacingAndGlyphs" fill="#000" stroke="#000" stroke-width="0.3" >d</text>
<rect x="106.25" y="1273.00" width="2.70" height="220.80" fill="#000"/>
<rect x="97.10" y="1273.05" width="11.40" height="2.30" fill="#000"/>
<rect x="97.10" y="1345.78" width="11.40" height="2.30" fill="#000"/>
<rect x="97.10" y="1418.52" width="11.40" height="2.30" fill="#000"/>
<rect x="97.10" y="1491.25" width="11.40" height="2.30" fill="#000"/>
<rect x="97.10" y="1491.35" width="337.70" height="2.50" fill="#000"/>
<text x="62.40" y="1279.59" font-family="Liberation Sans" font-weight="bold" font-size="20.63" textLength="28.68" lengthAdjust="spacingAndGlyphs" fill="#000" stroke="#000" stroke-width="0.3" >1.5</text>
<text x="61.97" y="1352.20" font-family="Liberation Sans" font-weight="bold" font-size="20.34" textLength="29.40" lengthAdjust="spacingAndGlyphs" fill="#000" stroke="#000" stroke-width="0.3" >1.0</text>
<text x="61.55" y="1424.80" font-family="Liberation Sans" font-weight="bold" font-size="20.34" textLength="29.55" lengthAdjust="spacingAndGlyphs" fill="#000" stroke="#000" stroke-width="0.3" >0.5</text>
<text x="79.26" y="1496.32" font-family="Liberation Sans" font-weight="bold" font-size="18.08" textLength="11.71" lengthAdjust="spacingAndGlyphs" fill="#000" stroke="#000" stroke-width="0.3" >0</text>
<text transform="translate(27.50,1467.85) rotate(-90) scale(1,1.0716)" x="0" y="0" font-family="Liberation Sans" font-weight="bold" font-size="20.07" fill="#000" stroke="#000" stroke-width="0.3">Relative activity</text>
<rect x="126.60" y="1343.50" width="12.60" height="2.10" rx="1.05" fill="#000"/>
<rect x="131.70" y="1344.55" width="2.40" height="2.95" fill="#000"/>
<rect x="121.10" y="1346.50" width="22.90" height="145.90" fill="#000"/>
<rect x="157.60" y="1335.70" width="12.00" height="2.30" rx="1.15" fill="#000"/>
<rect x="162.40" y="1336.85" width="2.40" height="4.35" fill="#000"/>
<rect x="153.20" y="1341.30" width="20.40" height="151.00" fill="#fff" stroke="#000" stroke-width="2.2"/>
<rect x="208.70" y="1340.20" width="12.10" height="2.40" rx="1.20" fill="#000"/>
<rect x="213.55" y="1341.40" width="2.40" height="6.10" fill="#000"/>
<rect x="203.30" y="1346.50" width="22.90" height="145.90" fill="#000"/>
<rect x="239.40" y="1382.60" width="12.10" height="2.40" rx="1.20" fill="#000"/>
<rect x="244.25" y="1383.80" width="2.40" height="4.30" fill="#000"/>
<rect x="235.40" y="1388.20" width="20.10" height="104.10" fill="#fff" stroke="#000" stroke-width="2.2"/>
<rect x="290.50" y="1339.00" width="12.00" height="2.70" rx="1.35" fill="#000"/>
<rect x="295.30" y="1340.35" width="2.40" height="7.15" fill="#000"/>
<rect x="285.00" y="1346.50" width="22.90" height="145.90" fill="#000"/>
<rect x="321.20" y="1347.10" width="12.00" height="2.40" rx="1.20" fill="#000"/>
<rect x="326.00" y="1348.30" width="2.40" height="3.40" fill="#000"/>
<rect x="317.20" y="1351.80" width="20.30" height="140.50" fill="#fff" stroke="#000" stroke-width="2.2"/>
<rect x="372.30" y="1338.00" width="12.10" height="2.50" rx="1.25" fill="#000"/>
<rect x="377.15" y="1339.25" width="2.40" height="8.25" fill="#000"/>
<rect x="366.90" y="1346.50" width="22.90" height="145.90" fill="#000"/>
<rect x="403.00" y="1336.60" width="12.10" height="2.40" rx="1.20" fill="#000"/>
<rect x="407.85" y="1337.80" width="2.40" height="3.40" fill="#000"/>
<rect x="399.00" y="1341.30" width="20.40" height="151.00" fill="#fff" stroke="#000" stroke-width="2.2"/>
<path d="M240.47,1361.20 L241.45,1358.33 L239.20,1358.33 L240.17,1361.20Z M241.57,1357.95 a1.25,1.25 0 1,0 -2.50,0 a1.25,1.25 0 1,0 2.50,0Z M240.94,1361.58 L244.63,1360.99 L243.51,1359.04 L240.79,1361.32Z M245.64,1359.83 a1.25,1.25 0 1,0 -2.50,0 a1.25,1.25 0 1,0 2.50,0Z M239.86,1361.32 L237.14,1359.04 L236.02,1360.99 L239.71,1361.58Z M237.51,1359.83 a1.25,1.25 0 1,0 -2.50,0 a1.25,1.25 0 1,0 2.50,0Z M240.17,1362.20 L239.20,1365.08 L241.45,1365.08 L240.47,1362.20Z M241.57,1365.45 a1.25,1.25 0 1,0 -2.50,0 a1.25,1.25 0 1,0 2.50,0Z M239.71,1361.82 L236.02,1362.41 L237.14,1364.36 L239.86,1362.08Z M237.51,1363.58 a1.25,1.25 0 1,0 -2.50,0 a1.25,1.25 0 1,0 2.50,0Z M240.79,1362.08 L243.51,1364.36 L244.63,1362.41 L240.94,1361.82Z M245.64,1363.58 a1.25,1.25 0 1,0 -2.50,0 a1.25,1.25 0 1,0 2.50,0Z" fill="#000"/>
<path d="M253.72,1361.20 L254.70,1358.33 L252.45,1358.33 L253.42,1361.20Z M254.82,1357.95 a1.25,1.25 0 1,0 -2.50,0 a1.25,1.25 0 1,0 2.50,0Z M254.19,1361.58 L257.88,1360.99 L256.76,1359.04 L254.04,1361.32Z M258.89,1359.83 a1.25,1.25 0 1,0 -2.50,0 a1.25,1.25 0 1,0 2.50,0Z M253.11,1361.32 L250.39,1359.04 L249.27,1360.99 L252.96,1361.58Z M250.76,1359.83 a1.25,1.25 0 1,0 -2.50,0 a1.25,1.25 0 1,0 2.50,0Z M253.42,1362.20 L252.45,1365.08 L254.70,1365.08 L253.72,1362.20Z M254.82,1365.45 a1.25,1.25 0 1,0 -2.50,0 a1.25,1.25 0 1,0 2.50,0Z M252.96,1361.82 L249.27,1362.41 L250.39,1364.36 L253.11,1362.08Z M250.76,1363.58 a1.25,1.25 0 1,0 -2.50,0 a1.25,1.25 0 1,0 2.50,0Z M254.04,1362.08 L256.76,1364.36 L257.88,1362.41 L254.19,1361.82Z M258.89,1363.58 a1.25,1.25 0 1,0 -2.50,0 a1.25,1.25 0 1,0 2.50,0Z" fill="#000"/>
<text x="111.68" y="1521.71" font-family="Liberation Sans" font-weight="bold" font-size="18.91" textLength="71.03" lengthAdjust="spacingAndGlyphs" fill="#000" stroke="#000" stroke-width="0.3" >Control</text>
<text x="206.71" y="1521.71" font-family="Liberation Sans" font-weight="bold" font-size="18.91" textLength="47.09" lengthAdjust="spacingAndGlyphs" fill="#000" stroke="#000" stroke-width="0.3" >Rhes</text>
<text x="287.48" y="1521.71" font-family="Liberation Sans" font-weight="bold" font-size="18.91" textLength="48.13" lengthAdjust="spacingAndGlyphs" fill="#000" stroke="#000" stroke-width="0.3" >Rhes</text>
<text x="289.19" y="1547.54" font-family="Liberation Sans" font-weight="bold" font-size="19.51" textLength="49.32" lengthAdjust="spacingAndGlyphs" fill="#000" stroke="#000" stroke-width="0.3" >(Mut)</text>
<text x="369.10" y="1521.71" font-family="Liberation Sans" font-weight="bold" font-size="18.91" textLength="47.40" lengthAdjust="spacingAndGlyphs" fill="#000" stroke="#000" stroke-width="0.3" >Rhes</text>
<text x="372.05" y="1547.54" font-family="Liberation Sans" font-weight="bold" font-size="19.51" textLength="46.81" lengthAdjust="spacingAndGlyphs" fill="#000" stroke="#000" stroke-width="0.3" >(Del)</text>
<rect x="460.60" y="1334.50" width="40.70" height="12.50" fill="#000"/>
<rect x="460.50" y="1377.50" width="40.60" height="12.90" fill="#fff" stroke="#000" stroke-width="3.0"/>
<text x="522.80" y="1347.53" font-family="Liberation Sans" font-weight="bold" font-size="17.28" textLength="60.43" lengthAdjust="spacingAndGlyphs" fill="#000" stroke="#000" stroke-width="0.3" >miR-sc</text>
<text x="522.77" y="1391.12" font-family="Liberation Sans" font-weight="bold" font-size="18.23" textLength="72.36" lengthAdjust="spacingAndGlyphs" fill="#000" stroke="#000" stroke-width="0.3" >miR-101</text>
</svg>
</body></html>
